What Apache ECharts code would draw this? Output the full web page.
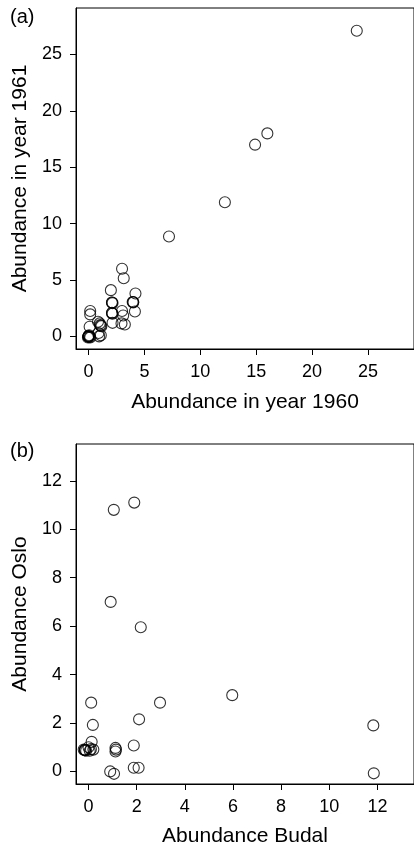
<!DOCTYPE html>
<html>
<head>
<meta charset="utf-8">
<script src="https://cdn.jsdelivr.net/npm/echarts@6/dist/echarts.min.js"></script>
<style>
html,body{margin:0;padding:0;background:#fff;}
#c{width:414px;height:848px;}
</style>
</head>
<body>
<div id="c"></div>
<script>
// Panel (a): abundance in 1960 vs 1961
var a1960 = [24, 16, 14.9, 12.2, 7.2, 3.0, 3.15, 2.0, 4.2,
  2.1, 2.1, 2.15, 4.0, 4.0, 3.95, 2.1, 2.15, 2.1,
  3.0, 3.1, 4.15, 2.15, 2.95, 3.25,
  0.15, 0.15, 0.1, 0.85, 1.0, 1.1, 1.05, 1.15, 1.1, 0.95, 0.9,
  0, 0, 0, 0, -0.05, 0.1, 0.05, 0.15];
var a1961 = [27.1, 18, 17, 11.9, 8.85, 6.0, 5.15, 4.1, 3.8,
  3.0, 3.0, 2.95, 3.05, 3.0, 3.05, 2.1, 2.0, 2.05,
  2.25, 1.85, 2.2, 1.2, 1.15, 1.05,
  2.25, 1.95, 0.85, 1.3, 1.15, 0.95, 1.0, 0.9, 0.1, 0.0, 0.3,
  0, 0, 0, 0, -0.1, -0.05, 0.1, -0.1];
// Panel (b): abundance Budal vs Oslo
var budal = [1.9, 1.05, 0.92, 2.17, 5.97, 2.97, 0.11, 0.18, 2.1, 11.83, 11.85,
  0.13, 1.88, 1.12, 1.14, 1.12, 0.9, 1.06, 1.88, 2.08,
  -0.15, -0.15, -0.15, -0.1, -0.2, 0.0, 0.1, 0.2, 0.05];
var oslo = [11.1, 10.8, 7.0, 5.95, 3.15, 2.84, 2.84, 1.92, 2.15, 1.9, -0.08,
  1.22, 1.07, 0.97, 0.9, 0.82, 0.0, -0.1, 0.15, 0.15,
  0.88, 0.88, 0.88, 0.85, 0.9, 1.0, 0.92, 0.9, 0.85];
var ticksA = [0, 5, 10, 15, 20, 25];
var ticksB = [0, 2, 4, 6, 8, 10, 12];

function pairs(xs, ys){ return xs.map(function(x,i){ return [x, ys[i]]; }); }

var FONT = '"Liberation Sans", Arial, Helvetica, sans-serif';
function axis(name, min, max, ticks, gap, margin){
  return {
    type: 'value', min: min, max: max,
    name: name, nameLocation: 'middle', nameGap: gap,
    nameTextStyle: {fontSize: 21, color: '#000', fontFamily: FONT},
    axisLine: {show: true, onZero: false, lineStyle: {color: '#000', width: 1}},
    axisTick: {show: true, inside: false, length: 6, customValues: ticks, lineStyle: {color: '#000'}},
    axisLabel: {show: true, customValues: ticks, fontSize: 18, color: '#000', fontFamily: FONT, margin: margin},
    splitLine: {show: false}
  };
}

var chart = echarts.init(document.getElementById('c'), null, {renderer: 'canvas'});
var sym = {color: 'rgba(0,0,0,0)', borderColor: '#000', borderWidth: 1.1};
chart.setOption({
  animation: false,
  backgroundColor: '#fff',
  grid: [
    {left: 76, top: 8, width: 342, height: 341, show: true, borderColor: '#000', borderWidth: 1, backgroundColor: 'transparent'},
    {left: 76, top: 444, width: 341, height: 340, show: true, borderColor: '#000', borderWidth: 1, backgroundColor: 'transparent'}
  ],
  xAxis: [
    Object.assign(axis('Abundance in year 1960', -1.12, 29.12, ticksA, 43, 14), {gridIndex: 0}),
    Object.assign(axis('Abundance Budal', -0.52, 13.52, ticksB, 42, 14), {gridIndex: 1})
  ],
  yAxis: [
    Object.assign(axis('Abundance in year 1961', -1.12, 29.12, ticksA, 43, 14), {gridIndex: 0}),
    Object.assign(axis('Abundance Oslo', -0.52, 13.52, ticksB, 43, 14), {gridIndex: 1})
  ],
  graphic: [
    {type: 'text', left: 10, top: 7, style: {text: '(a)', fill: '#000', font: '20px ' + FONT}},
    {type: 'text', left: 10, top: 441, style: {text: '(b)', fill: '#000', font: '20px ' + FONT}}
  ],
  series: [
    {type: 'scatter', xAxisIndex: 0, yAxisIndex: 0, symbol: 'circle', symbolSize: 11, itemStyle: sym, data: pairs(a1960, a1961)},
    {type: 'scatter', xAxisIndex: 1, yAxisIndex: 1, symbol: 'circle', symbolSize: 11, itemStyle: sym, data: pairs(budal, oslo)}
  ]
});
</script>
</body>
</html>
